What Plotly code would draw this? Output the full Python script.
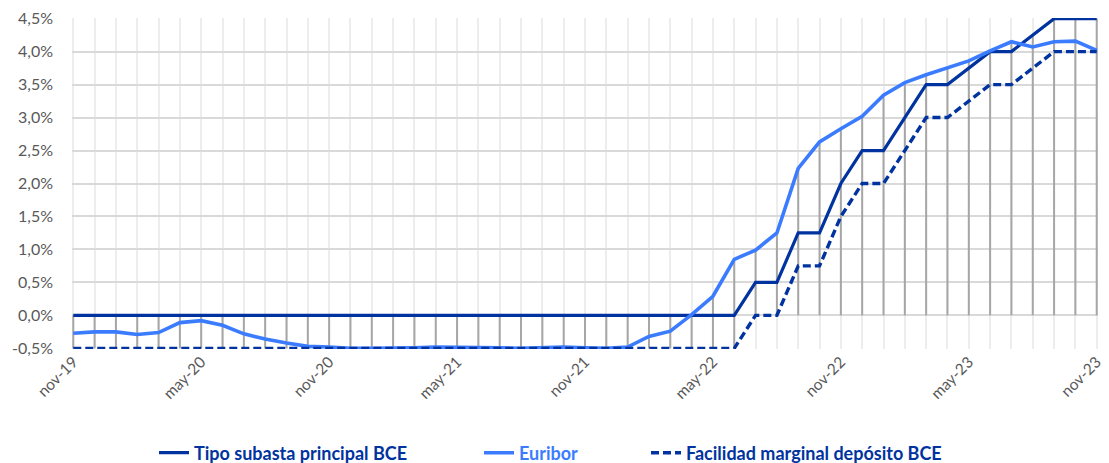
import plotly.graph_objects as go

months = ["nov-19","dic-19","ene-20","feb-20","mar-20","abr-20","may-20","jun-20","jul-20","ago-20","sep-20","oct-20",
          "nov-20","dic-20","ene-21","feb-21","mar-21","abr-21","may-21","jun-21","jul-21","ago-21","sep-21","oct-21",
          "nov-21","dic-21","ene-22","feb-22","mar-22","abr-22","may-22","jun-22","jul-22","ago-22","sep-22","oct-22",
          "nov-22","dic-22","ene-23","feb-23","mar-23","abr-23","may-23","jun-23","jul-23","ago-23","sep-23","oct-23","nov-23"]

x_tick_labels = ["nov-19","may-20","nov-20","may-21","nov-21","may-22","nov-22","may-23","nov-23"]
y_tick_values = [-0.5, 0.0, 0.5, 1.0, 1.5, 2.0, 2.5, 3.0, 3.5, 4.0, 4.5]
y_tick_labels = ["-0,5%", "0,0%", "0,5%", "1,0%", "1,5%", "2,0%", "2,5%", "3,0%", "3,5%", "4,0%", "4,5%"]

tipo_bce = [0.0]*32 + [0.5, 0.5, 1.25, 1.25, 2.0, 2.5, 2.5, 3.0, 3.5, 3.5, 3.75, 4.0, 4.0, 4.25, 4.5, 4.5, 4.5]

euribor = [-0.27, -0.25, -0.25, -0.29, -0.26, -0.11, -0.08, -0.15, -0.28, -0.36, -0.42, -0.47,
           -0.48, -0.50, -0.50, -0.50, -0.49, -0.48, -0.48, -0.48, -0.49, -0.50, -0.49, -0.48,
           -0.49, -0.50, -0.48, -0.32, -0.24, 0.01, 0.29, 0.85, 0.99, 1.25, 2.23, 2.63,
           2.83, 3.02, 3.34, 3.53, 3.65, 3.76, 3.86, 4.01, 4.15, 4.07, 4.15, 4.16, 4.02]

facilidad = [-0.5]*32 + [0.0, 0.0, 0.75, 0.75, 1.5, 2.0, 2.0, 2.5, 3.0, 3.0, 3.25, 3.5, 3.5, 3.75, 4.0, 4.0, 4.0]

DARK = "#0033A0"
LIGHT = "#3B7CFF"
GRAY_TXT = "#595959"
FONT = "Lato, Open Sans, sans-serif"

x = list(range(len(months)))

# high-low lines (including the zero baseline)
hl_x, hl_y = [], []
for i in x:
    vals = [tipo_bce[i], euribor[i], facilidad[i], 0.0]
    hl_x += [i, i, None]
    hl_y += [min(vals), max(vals), None]

fig = go.Figure()
fig.add_trace(go.Scatter(x=hl_x, y=hl_y, mode="lines", line=dict(color="#A6A6A6", width=2),
                         showlegend=False, hoverinfo="skip"))
fig.add_trace(go.Scatter(x=x, y=tipo_bce, mode="lines", line=dict(color=DARK, width=3.2),
                         name=f"<span style='color:{DARK}'><b>Tipo subasta principal BCE</b></span>",
                         legend="legend"))
fig.add_trace(go.Scatter(x=x, y=euribor, mode="lines", line=dict(color=LIGHT, width=3.6),
                         name=f"<span style='color:{LIGHT}'><b>Euribor</b></span>",
                         legend="legend2"))
fig.add_trace(go.Scatter(x=x, y=facilidad, mode="lines", line=dict(color=DARK, width=3.4, dash="8px,4px"),
                         name=f"<span style='color:{DARK}'><b>Facilidad marginal depósito BCE</b></span>",
                         legend="legend3"))

W, H = 1101, 455  # body margin of 8px in the page
def leg(xpx):
    return dict(orientation="h", xref="container", x=xpx / W, xanchor="left",
                yref="container", y=(H - 445) / H, yanchor="middle",
                font=dict(size=18, family=FONT), bgcolor="rgba(0,0,0,0)")

fig.update_layout(
    width=W, height=H,
    margin=dict(l=64, r=11, t=10, b=114, autoexpand=False),
    paper_bgcolor="white", plot_bgcolor="white",
    font=dict(family=FONT, size=15, color=GRAY_TXT),
    showlegend=True,
    legend=leg(146),
    legend2=leg(471),
    legend3=leg(638),
    xaxis=dict(range=[-0.06, 48.06], tickmode="array", tickvals=list(range(0, 49, 6)), ticktext=x_tick_labels,
               tickangle=-45, showgrid=True, gridcolor="#EDEDED", gridwidth=1.5, zeroline=False,
               showline=False, ticks="", tickfont=dict(size=15.5, color=GRAY_TXT), automargin=False,
               minor=dict(tick0=0, dtick=1, showgrid=True, gridcolor="#EDEDED", gridwidth=1.5)),
    yaxis=dict(range=[-0.51, 4.51], tickmode="array", tickvals=y_tick_values, ticktext=y_tick_labels,
               showgrid=True, gridcolor="#D9D9D9", gridwidth=1.5, automargin=False,
               zeroline=False, showline=False, ticks="", ticklabelstandoff=18,
               tickfont=dict(size=16, color=GRAY_TXT)),
)

fig.write_html("out.html")
